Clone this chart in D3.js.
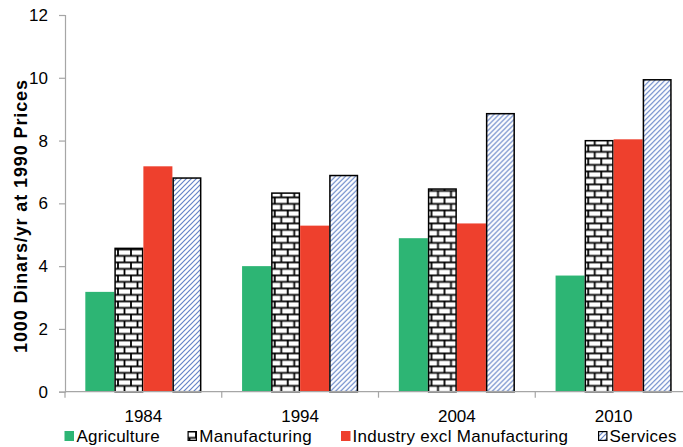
<!DOCTYPE html>
<html>
<head>
<meta charset="utf-8">
<script src="https://cdn.jsdelivr.net/npm/d3@7"></script>
<style>
  html, body { margin: 0; padding: 0; background: #fff; }
  svg { display: block; font-family: "Liberation Sans", Arial, Helvetica, sans-serif; }
</style>
</head>
<body>
<svg id="chart" width="683" height="447"></svg>
<script>
// ---- data ----
const years = ["1984", "1994", "2004", "2010"];
const seriesNames = ["Agriculture", "Manufacturing", "Industry excl Manufacturing", "Services"];
const agriculture   = [3.18, 4.00, 4.89, 3.70];
const manufacturing = [4.59, 6.35, 6.48, 8.02];
const industryExcl  = [7.18, 5.29, 5.36, 8.04];
const services      = [6.83, 6.91, 8.88, 9.96];
const yTicks = [0, 2, 4, 6, 8, 10, 12];
const yTitle = "1000 Dinars/yr at 1990 Prices";

const seriesValues = [agriculture, manufacturing, industryExcl, services];

const svg = d3.select("#chart");
const axisColor = "#a6a6a6";

// ---- patterns ----
const defs = svg.append("defs");
const brick = defs.append("pattern")
  .attr("id", "brick").attr("patternUnits", "userSpaceOnUse")
  .attr("width", 13).attr("height", 13).attr("x", 0).attr("y", 1.5);
brick.append("rect").attr("width", 13).attr("height", 13).attr("fill", "#fff");
brick.append("path")
  .attr("d", "M0,0.9H13 M0,7.4H13 M1,0V7.4 M7.5,7.4V13")
  .attr("stroke", "#000").attr("stroke-width", 1.8).attr("fill", "none");

const hatch = defs.append("pattern")
  .attr("id", "hatch").attr("patternUnits", "userSpaceOnUse")
  .attr("width", 5).attr("height", 5);
hatch.append("rect").attr("width", 5).attr("height", 5).attr("fill", "#fff");
hatch.append("path")
  .attr("d", "M-1,1 L1,-1 M0,5 L5,0 M4,6 L6,4")
  .attr("stroke", "#6584c8").attr("stroke-width", 1.2).attr("fill", "none");

const styles = [
  { fill: "#2db574", stroke: "none", sw: 0 },
  { fill: "url(#brick)", stroke: "#000", sw: 1.5 },
  { fill: "#ee402d", stroke: "none", sw: 0 },
  { fill: "url(#hatch)", stroke: "#000", sw: 1.5 }
];

// ---- scales ----
const x0 = d3.scaleBand().domain(years).range([65, 692]).paddingInner(0).paddingOuter(0);
const x1 = d3.scaleBand().domain(seriesNames).range([0, x0.bandwidth()]).paddingInner(0).paddingOuter(0.7);
const y = d3.scaleLinear().domain([0, 12]).range([391.7, 15]);

// ---- bars ----
const groups = svg.append("g").selectAll("g")
  .data(years).join("g")
  .attr("transform", d => `translate(${x0(d)},0)`);

groups.selectAll("rect")
  .data((d, i) => seriesNames.map((s, j) => ({ s, j, v: seriesValues[j][i] })))
  .join("rect")
  .attr("x", d => x1(d.s) + (styles[d.j].sw ? 0.75 : 0))
  .attr("width", d => x1.bandwidth() - (styles[d.j].sw ? 1.5 : 0))
  .attr("y", d => y(d.v) + (styles[d.j].sw ? 0.75 : 0))
  .attr("height", d => y(0) - y(d.v) - (styles[d.j].sw ? 0.75 : 0))
  .attr("fill", d => styles[d.j].fill)
  .attr("stroke", d => styles[d.j].stroke)
  .attr("stroke-width", d => styles[d.j].sw);

// ---- axes ----
const yAxis = d3.axisLeft(y).tickValues(yTicks).tickSize(6).tickPadding(11).tickFormat(d3.format("d"));
const gy = svg.append("g").attr("transform", "translate(65,0)").call(yAxis);
gy.select(".domain").attr("stroke", axisColor).attr("stroke-width", 1.2);
gy.selectAll(".tick line").attr("stroke", axisColor).attr("stroke-width", 1.2);
gy.selectAll(".tick text").attr("font-size", "17px").attr("fill", "#000")
  .attr("font-family", "Liberation Sans, Arial, sans-serif");

// x axis baseline with ticks at band boundaries
const gx = svg.append("g");
gx.append("line").attr("x1", 65).attr("x2", 692).attr("y1", y(0)).attr("y2", y(0))
  .attr("stroke", axisColor).attr("stroke-width", 1.2);
const bounds = years.map(d => x0(d)).concat([x0(years[years.length - 1]) + x0.bandwidth()]);
gx.selectAll("line.tk").data(bounds).join("line").attr("class", "tk")
  .attr("x1", d => d).attr("x2", d => d)
  .attr("y1", y(0)).attr("y2", y(0) + 6)
  .attr("stroke", axisColor).attr("stroke-width", 1.2);
gx.selectAll("text").data(years).join("text")
  .attr("x", d => x0(d) + x0.bandwidth() / 2)
  .attr("y", 421.5)
  .attr("text-anchor", "middle")
  .attr("font-size", "17px")
  .attr("fill", "#000")
  .text(d => d);

// y axis title
svg.append("text")
  .attr("transform", `translate(27,${216.5}) rotate(-90)`)
  .attr("text-anchor", "middle")
  .attr("font-size", "18px")
  .attr("font-weight", "bold")
  .attr("fill", "#000")
  .attr("textLength", 273)
  .attr("lengthAdjust", "spacing")
  .text(yTitle);

// ---- legend ----
const legendPos = [64.5, 187.5, 341, 598];
const legendTextX = [76.6, 199.2, 352.5, 609.5];
const legendTextW = [83, 112.5, 215.5, 67];
const leg = svg.append("g");
seriesNames.forEach((s, j) => {
  const g = leg.append("g");
  g.append("rect")
    .attr("x", legendPos[j] + (styles[j].sw ? 0.6 : 0)).attr("y", 431 + (styles[j].sw ? 0.6 : 0))
    .attr("width", 9.5 - (styles[j].sw ? 1.2 : 0)).attr("height", 10 - (styles[j].sw ? 1.2 : 0))
    .attr("fill", styles[j].fill)
    .attr("stroke", styles[j].stroke)
    .attr("stroke-width", styles[j].sw ? 1.2 : 0);
  g.append("text")
    .attr("x", legendTextX[j]).attr("y", 441.7)
    .attr("font-size", "17px")
    .attr("fill", "#000")
    .attr("textLength", legendTextW[j])
    .attr("lengthAdjust", "spacing")
    .text(s);
});
</script>
</body>
</html>
